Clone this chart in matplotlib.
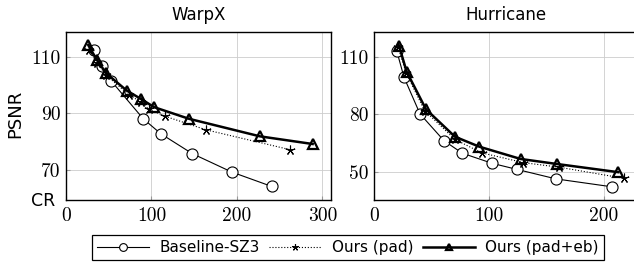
import numpy as np
import matplotlib
matplotlib.use("Agg")
import matplotlib.pyplot as plt

# WarpX
warpx_base_cr = [32.7, 41.7, 52.6, 90.4, 111, 147.7, 193.8, 240.6]
warpx_base_psnr = [112.5, 106.9, 101.6, 88.1, 82.8, 75.8, 69.3, 64.2]
warpx_pad_cr = [27, 36, 47, 74, 88, 97, 116, 164, 262]
warpx_pad_psnr = [112.5, 108.0, 103.5, 96.5, 94.0, 91.5, 89.0, 84.2, 77.2]
warpx_eb_cr = [26, 36, 47, 71, 87.3, 103.3, 144, 227, 288.5]
warpx_eb_psnr = [114.2, 109.0, 104.2, 98.1, 95.2, 92.2, 88.1, 81.9, 79.2]

# Hurricane
hur_base_cr = [19.7, 26.1, 40, 60.9, 76.8, 102.9, 124, 158.3, 206.7]
hur_base_psnr = [113.3, 99.4, 80.3, 66.3, 59.8, 54.5, 51.4, 46.4, 42.3]
hur_pad_cr = [21, 28, 44, 70.4, 93.6, 129.8, 161, 217.4]
hur_pad_psnr = [115.0, 101.5, 82.0, 67.0, 60.0, 54.9, 52.5, 46.7]
hur_eb_cr = [21.7, 28.4, 45.2, 70.4, 91.6, 127.5, 158.8, 212.5]
hur_eb_psnr = [115.9, 102.3, 82.7, 68.4, 63.2, 56.8, 54.2, 49.9]

labels = ["Baseline-SZ3", "Ours (pad)", "Ours (pad+eb)"]

sans = ["DejaVu Sans"]
serif = "cmr10"

fig = plt.figure(figsize=(6.34, 2.67), dpi=100)
ax1 = fig.add_axes([66 / 634, 1 - 200 / 267, 265 / 634, 168 / 267])
ax2 = fig.add_axes([374 / 634, 1 - 200 / 267, 264 / 634, 168 / 267])


def draw(ax, base, pad, eb):
    h1, = ax.plot(base[0], base[1], color="black", lw=0.8, marker="o", ms=8,
                  mfc="white", mec="black", mew=0.8)
    h2, = ax.plot(pad[0], pad[1], color="black", lw=0.8, ls=":", marker=(5, 2, 0),
                  ms=7, mec="black", mew=0.8)
    h3, = ax.plot(eb[0], eb[1], color="black", lw=1.8, marker="^", ms=7,
                  mfc="none", mec="black", mew=1.6)
    ax.grid(True, color="#cccccc", lw=0.6)
    ax.set_axisbelow(True)
    ax.tick_params(direction="in", length=3, color="#999999", labelsize=14)
    ax.tick_params(axis="x", pad=5)
    ax.tick_params(axis="y", pad=4)
    for sp in ax.spines.values():
        sp.set_linewidth(1.0)
    return [h1, h2, h3]


handles = draw(ax1, (warpx_base_cr, warpx_base_psnr), (warpx_pad_cr, warpx_pad_psnr),
               (warpx_eb_cr, warpx_eb_psnr))
ax1.set_xlim(0, 310)
ax1.set_ylim(59.4, 118.8)
ax1.set_xticks([0, 100, 200, 300])
ax1.set_yticks([70, 90, 110])
for lab in ax1.get_xticklabels() + ax1.get_yticklabels():
    lab.set_fontfamily(serif)
ax1.set_title("WarpX", fontsize=12, family=sans, pad=9)
ax1.text(-0.04, -0.006, "CR", transform=ax1.transAxes, ha="right", va="center",
         fontsize=12.5, family=sans)

draw(ax2, (hur_base_cr, hur_base_psnr), (hur_pad_cr, hur_pad_psnr),
     (hur_eb_cr, hur_eb_psnr))
ax2.set_xlim(0, 229.6)
ax2.set_ylim(35.4, 123)
ax2.set_xticks([0, 100, 200])
ax2.set_yticks([50, 80, 110])
for lab in ax2.get_xticklabels() + ax2.get_yticklabels():
    lab.set_fontfamily(serif)
ax2.set_title("Hurricane", fontsize=12, family=sans, pad=9)

fig.text(15 / 634, 1 - 114 / 267, "PSNR", rotation=90, ha="center", va="center",
         fontsize=13, family=sans)

leg = fig.legend(handles, labels, ncol=3, loc="center",
                 bbox_to_anchor=(348 / 634, 1 - 247.5 / 267),
                 fancybox=False, edgecolor="black", framealpha=1,
                 prop={"family": sans, "size": 11}, handlelength=3.4,
                 columnspacing=0.6, handletextpad=0.7, borderpad=0.35,
                 borderaxespad=0, markerscale=0.7)
leg.get_frame().set_linewidth(0.9)

fig.savefig("out.png", dpi=100)
